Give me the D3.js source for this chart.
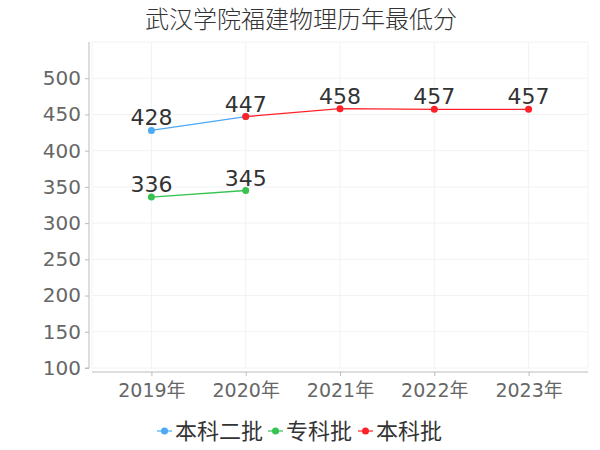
<!DOCTYPE html>
<html>
<head>
<meta charset="utf-8">
<script src="https://cdn.jsdelivr.net/npm/d3@7"></script>
<style>
  body { margin: 0; background: #fff; }
  text { font-family: "DejaVu Sans", "Noto Sans CJK SC", sans-serif; }
</style>
</head>
<body>
<svg id="chart" width="600" height="450"></svg>
<script>
// chart data
var years = ["2019年", "2020年", "2021年", "2022年", "2023年"];
var seriesNames = ["本科二批", "专科批", "本科批"];
var seriesColors = ["#4ba9f7", "#36c351", "#ff2128"];
var benke2 = [428, 447, null, null, null];
var zhuanke = [336, 345, null, null, null];
var benke = [null, 447, 458, 457, 457];
var yTicks = [100, 150, 200, 250, 300, 350, 400, 450, 500];

var svg = d3.select("#chart");

// title
svg.append("text")
    .attr("x", 301)
    .attr("y", 28)
    .attr("font-size", 24)
    .attr("fill", "#333")
    .style("font-family", "'Noto Sans CJK SC', sans-serif")
    .style("font-weight", 300)
    .style("text-anchor", "middle")
    .text("武汉学院福建物理历年最低分");

var x = d3.scalePoint()
          .domain(years)
          .range([92, 588])
          .padding(0.63);

var y = d3.scaleLinear()
          .domain([100, 550])
          .range([368, 42]);

// grid
var grid = svg.append("g");
grid.selectAll(".hgrid")
    .data(yTicks.concat([550]))
  .enter().append("line")
    .attr("x1", 92).attr("x2", 588)
    .attr("y1", d => y(d)).attr("y2", d => y(d))
    .attr("stroke", "#f2f2f2");
grid.selectAll(".vgrid")
    .data(years)
  .enter().append("line")
    .attr("x1", d => x(d)).attr("x2", d => x(d))
    .attr("y1", y(550)).attr("y2", y(100))
    .attr("stroke", "#f2f2f2");
[92, 588].forEach(function(px) {
  grid.append("line")
      .attr("x1", px).attr("x2", px)
      .attr("y1", y(550)).attr("y2", y(100))
      .attr("stroke", "#f2f2f2");
});

// y axis
var yAxis = svg.append("g")
    .attr("transform", "translate(89,0)")
    .call(d3.axisLeft(y).tickValues(yTicks).tickSize(4).tickPadding(4));
yAxis.select(".domain").attr("stroke", "#bbb").attr("d", "M0," + y(550) + "V" + y(100) + "H-4");
yAxis.selectAll(".tick line").attr("stroke", "#bbb");
yAxis.selectAll(".tick text")
    .attr("font-size", 20)
    .attr("fill", "#666")
    .attr("font-family", null);

// x axis
var xAxis = svg.append("g")
    .attr("transform", "translate(0,372)")
    .call(d3.axisBottom(x).tickSize(4).tickPadding(8));
xAxis.select(".domain").attr("stroke", "#bbb").attr("d", "M92,0H588");
xAxis.selectAll(".tick line").attr("stroke", "#bbb");
xAxis.selectAll(".tick text")
    .attr("font-size", 19)
    .attr("fill", "#666")
    .attr("font-family", null);

// lines and points
var allSeries = [benke2, zhuanke, benke];
var line = d3.line()
             .defined(d => d.v != null)
             .x(d => x(d.year))
             .y(d => y(d.v));

var labelled = {};
allSeries.forEach(function(vals, i) {
  var pts = vals.map((v, j) => ({ year: years[j], v: v }));
  var g = svg.append("g");
  g.append("path")
      .datum(pts)
      .attr("d", line)
      .attr("fill", "none")
      .attr("stroke", seriesColors[i])
      .attr("stroke-width", 1.3);
  g.selectAll("circle")
      .data(pts.filter(d => d.v != null))
    .enter().append("circle")
      .attr("cx", d => x(d.year))
      .attr("cy", d => y(d.v))
      .attr("r", 3.5)
      .attr("fill", seriesColors[i]);
  // one label per point position, shared points are labelled once
  var lab = pts.filter(function(d) {
    if (d.v == null) return false;
    var key = d.year + "_" + d.v;
    if (labelled[key]) return false;
    labelled[key] = true;
    return true;
  });
  g.selectAll("text")
      .data(lab)
    .enter().append("text")
      .attr("x", d => x(d.year))
      .attr("y", d => y(d.v) - 5)
      .attr("font-size", 22)
      .attr("fill", "#333")
      .style("text-anchor", "middle")
      .text(d => d.v);
});

// legend
var legendX = [157, 268, 358];
var legend = svg.selectAll(".legend")
    .data(seriesNames)
  .enter().append("g")
    .attr("transform", (d, i) => "translate(" + legendX[i] + ",431)");
legend.append("line")
    .attr("x1", 0).attr("x2", 15)
    .attr("stroke", (d, i) => seriesColors[i])
    .attr("stroke-opacity", 0.6)
    .attr("stroke-width", 2);
legend.append("circle")
    .attr("cx", 7.5)
    .attr("r", 3.5)
    .attr("fill", (d, i) => seriesColors[i]);
legend.append("text")
    .attr("x", 18)
    .attr("y", 8)
    .attr("font-size", 22)
    .attr("fill", "#333")
    .text(d => d);
</script>
</body>
</html>
